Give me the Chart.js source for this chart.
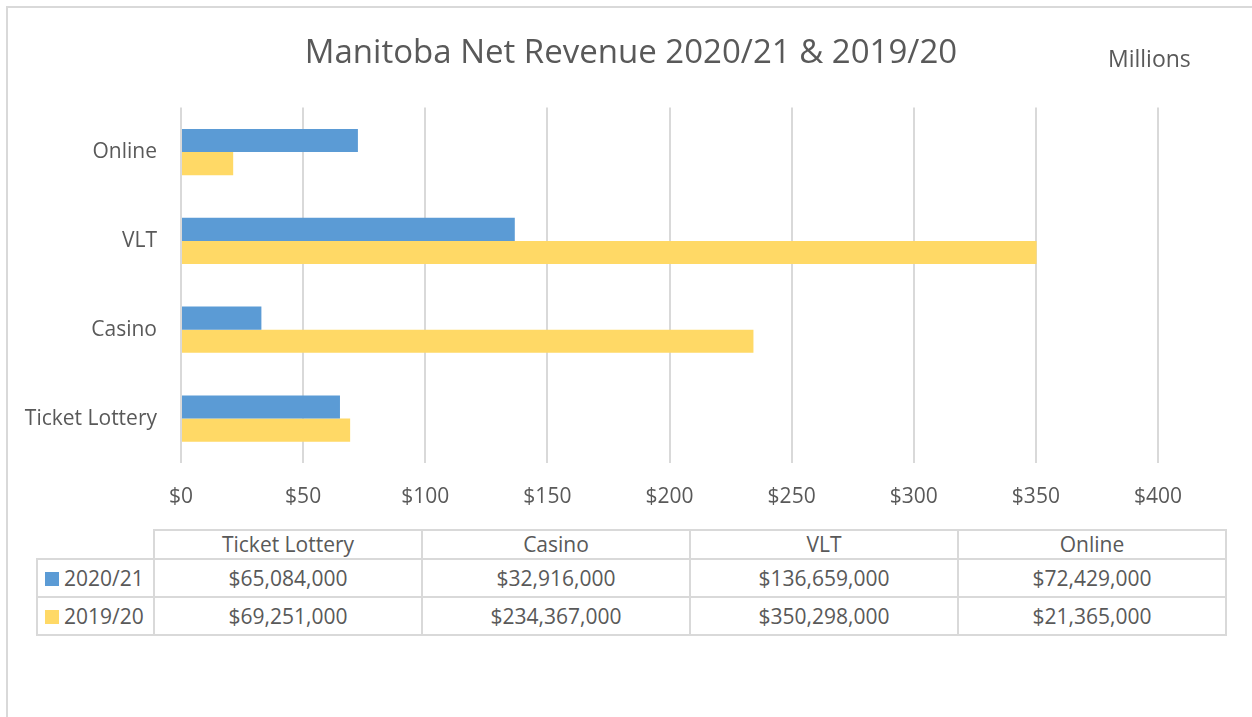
<!DOCTYPE html>
<html lang="en">
<head>
    <meta charset="UTF-8">
    <title>Manitoba Net Revenue 2020/21 & 2019/20</title>
    <script src="https://cdn.jsdelivr.net/npm/chart.js@4.4.0/dist/chart.umd.min.js"></script>
    <style>
        body { margin: 0; background: #fff; font-family: "Open Sans", sans-serif; color: #595959; }
        #wrap { position: relative; width: 1252px; height: 717px; overflow: hidden; }
        #frame { position: absolute; left: 6px; top: 6px; width: 1400px; height: 900px; border: 2px solid #d9d9d9; }
        #chart { position: absolute; left: 0; top: 0; }
        #units { position: absolute; left: 1108px; top: 42px; font-size: 23px; }
        #dataTable { position: absolute; left: 36px; top: 529px; border-collapse: collapse; font-size: 21px; }
        #dataTable td { border: 2px solid #d9d9d9; text-align: center; padding: 0; width: 266px; }
        #dataTable td.name { width: 115px; text-align: left; white-space: nowrap; }
        #dataTable td.blank { border-top: none; border-left: none; }
        #dataTable tr.head td { height: 27px; line-height: 27px; }
        #dataTable tr.row td { height: 36px; }
        .key { display: inline-block; width: 14px; height: 14px; margin: 0 5px 0 7px; }
    </style>
</head>
<body>
<div id="wrap">
    <div id="frame"></div>
    <canvas id="chart" width="1252" height="520"></canvas>
    <div id="units">Millions</div>
    <table id="dataTable"></table>
</div>

<script>
    const categories = ['Ticket Lottery', 'Casino', 'VLT', 'Online'];
    const seriesNames = ['2020/21', '2019/20'];
    const revenue2021 = [65084000, 32916000, 136659000, 72429000];
    const revenue1920 = [69251000, 234367000, 350298000, 21365000];
    const seriesColors = ['#5b9bd5', '#ffd966'];
    const allSeries = [revenue2021, revenue1920];

    const textColor = '#595959';
    const gridColor = '#d9d9d9';

    // data table under the chart
    const table = document.getElementById('dataTable');
    let html = '<tr class="head"><td class="name blank"></td>';
    categories.forEach(c => { html += '<td>' + c + '</td>'; });
    html += '</tr>';
    seriesNames.forEach((name, i) => {
        html += '<tr class="row"><td class="name"><span class="key" style="background:' + seriesColors[i] + '"></span>' + name + '</td>';
        allSeries[i].forEach(v => { html += '<td>$' + v.toLocaleString('en-US') + '</td>'; });
        html += '</tr>';
    });
    table.innerHTML = html;

    Chart.defaults.font.family = '"Open Sans", sans-serif';
    Chart.defaults.color = textColor;

    // center the title on the whole picture, not on the padded box
    const centerTitle = {
        id: 'centerTitle',
        afterLayout(chart) {
            chart.titleBlock.left = 0;
            chart.titleBlock.right = 1262;
        }
    };

    new Chart(document.getElementById('chart'), {
        type: 'bar',
        data: {
            labels: categories,
            datasets: seriesNames.map((name, i) => ({
                label: name,
                data: allSeries[i],
                backgroundColor: seriesColors[i],
                borderWidth: 0,
                categoryPercentage: 0.52,
                barPercentage: 1
            }))
        },
        options: {
            indexAxis: 'y',
            responsive: false,
            animation: false,
            layout: { padding: { left: 0, right: 94, top: 0, bottom: 0 } },
            scales: {
                x: {
                    min: 0,
                    max: 400000000,
                    ticks: {
                        stepSize: 50000000,
                        padding: 21,
                        font: { size: 21 },
                        color: textColor,
                        callback: v => '$' + (v / 1000000)
                    },
                    grid: { color: gridColor, lineWidth: 2, drawTicks: false },
                    border: { display: false },
                    afterFit: s => { s.height = 57; }
                },
                y: {
                    reverse: true,
                    ticks: { padding: 24, font: { size: 21 }, color: textColor },
                    grid: { display: false, drawTicks: false },
                    border: { display: false },
                    afterFit: s => { s.width = 181; }
                }
            },
            plugins: {
                legend: { display: false },
                tooltip: { enabled: false },
                title: {
                    display: true,
                    text: 'Manitoba Net Revenue 2020/21 & 2019/20',
                    color: textColor,
                    font: { size: 33, weight: 'normal' },
                    padding: { top: 34, bottom: 34 }
                }
            }
        },
        plugins: [centerTitle]
    });
</script>
</body>
</html>
